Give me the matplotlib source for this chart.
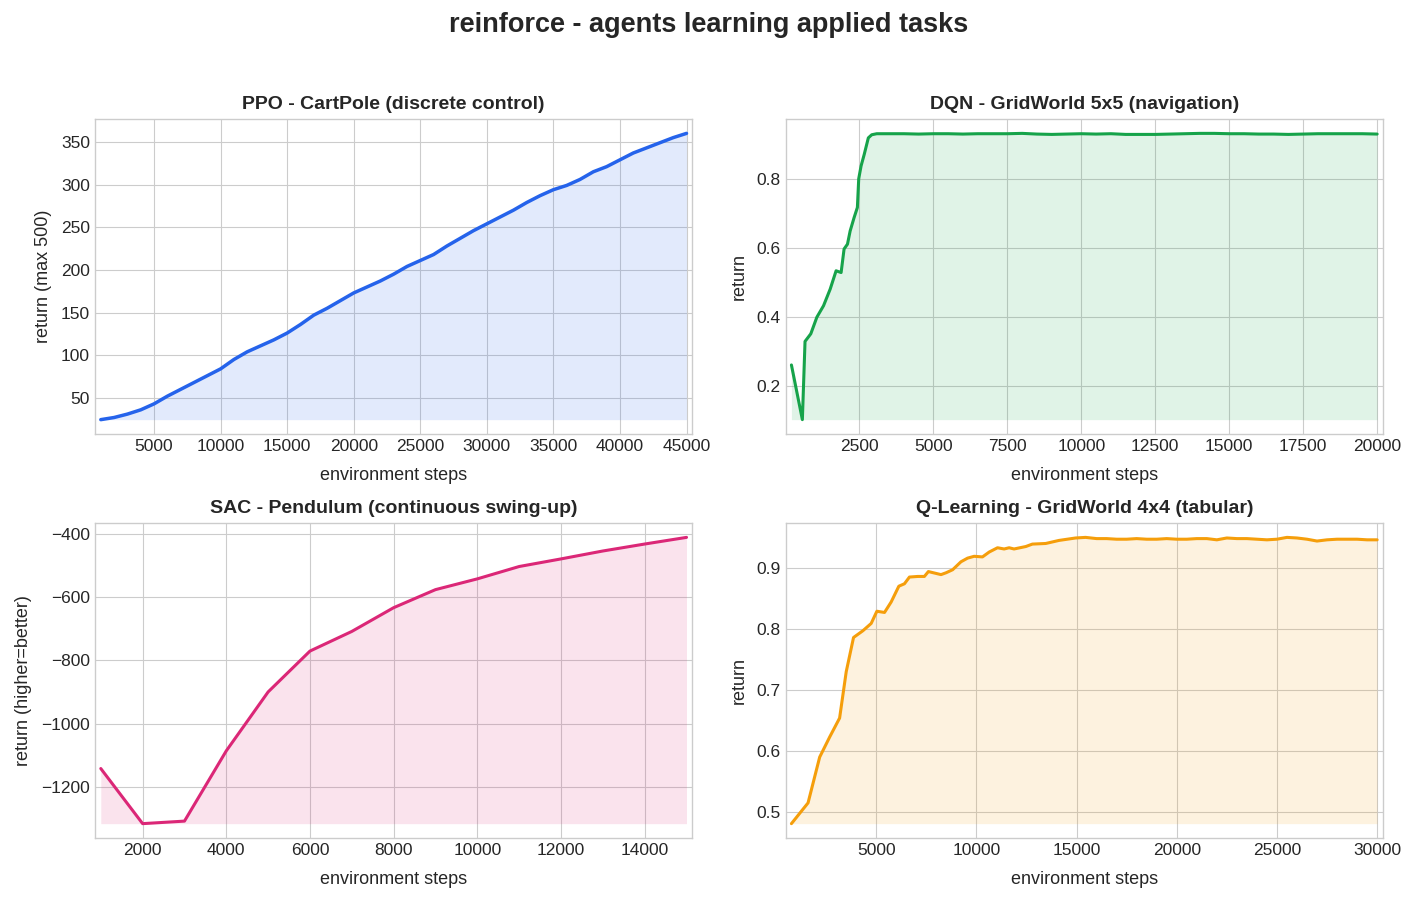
#!/usr/bin/env python3
"""
Learning curves for four RL agents (PPO, DQN, SAC, Q-learning) in a 2x2 grid.
Saves out.png.
"""
import numpy as np
import matplotlib
matplotlib.use('Agg')
import matplotlib.pyplot as plt

# --- PPO / CartPole ---
ppo_steps = list(range(1000, 46000, 1000))
ppo_return = [24.5, 27, 31, 36, 43, 52, 60, 68, 76, 84,
              95, 104, 111, 118, 126, 136, 147, 155, 164, 173,
              180, 187, 195, 204, 211, 218, 228, 237, 246, 254,
              262, 270, 279, 287, 294, 299, 306, 315, 321, 329,
              337, 343, 349, 355, 360]

# --- DQN / GridWorld 5x5 ---
dqn_steps = [200, 570, 660, 855, 1060, 1285, 1510, 1710, 1880, 1980,
             2095, 2185, 2320, 2430, 2475, 2555, 2660, 2800, 2915, 3085,
             3500, 4000, 4500, 5000, 5500, 6000, 6500, 7000, 7500, 8000,
             8500, 9000, 9500, 10000, 10500, 11000, 11500, 12000, 12500, 13000,
             13500, 14000, 14500, 15000, 15500, 16000, 16500, 17000, 17500, 18000,
             18500, 19000, 19500, 20000]
dqn_return = [0.262, 0.104, 0.330, 0.352, 0.400, 0.433, 0.481, 0.534, 0.529, 0.597,
              0.611, 0.649, 0.688, 0.717, 0.800, 0.837, 0.870, 0.918, 0.927, 0.930,
              0.930, 0.930, 0.929, 0.930, 0.930, 0.929, 0.930, 0.930, 0.930, 0.931,
              0.929, 0.928, 0.929, 0.930, 0.929, 0.930, 0.928, 0.928, 0.928, 0.929,
              0.930, 0.931, 0.931, 0.930, 0.930, 0.929, 0.929, 0.928, 0.929, 0.930,
              0.930, 0.930, 0.930, 0.929]

# --- SAC / Pendulum ---
sac_steps = list(range(1000, 16000, 1000))
sac_return = [-1142, -1316, -1308, -1086, -900, -771, -709, -634, -577, -543,
              -504, -480, -455, -433, -412]

# --- Q-learning / GridWorld 4x4 ---
ql_steps = [770, 1600, 2180, 2680, 3175, 3505, 3870, 4335, 4750, 5035,
            5415, 5745, 6130, 6410, 6660, 7075, 7405, 7605, 8235, 8485,
            8815, 9230, 9560, 9890, 10305, 10640, 11055, 11385, 11635, 11880,
            12465, 12795, 13460, 14120, 14950, 15450,
            16000, 16500, 17000, 17500, 18000, 18500, 19000, 19500, 20000, 20500,
            21000, 21500, 22000, 22500, 23000, 23500, 24000, 24500, 25000, 25500,
            26000, 26500, 27000, 27500, 28000, 28500, 29000, 29500, 30000]
ql_return = [0.481, 0.515, 0.590, 0.623, 0.654, 0.730, 0.786, 0.797, 0.809, 0.829,
             0.827, 0.844, 0.870, 0.874, 0.885, 0.886, 0.886, 0.894, 0.889, 0.892,
             0.897, 0.910, 0.916, 0.919, 0.918, 0.926, 0.933, 0.931, 0.933, 0.931,
             0.935, 0.939, 0.940, 0.945, 0.949, 0.950,
             0.948, 0.948, 0.947, 0.947, 0.948, 0.947, 0.947, 0.948, 0.947, 0.947,
             0.948, 0.948, 0.946, 0.949, 0.948, 0.948, 0.947, 0.946, 0.947, 0.950,
             0.949, 0.947, 0.944, 0.946, 0.947, 0.947, 0.947, 0.946, 0.946]

PANELS = [
    ('PPO - CartPole (discrete control)', ppo_steps, ppo_return, 'return (max 500)', '#2563eb', 2.5),
    ('DQN - GridWorld 5x5 (navigation)', dqn_steps, dqn_return, 'return', '#16a34a', 2.2),
    ('SAC - Pendulum (continuous swing-up)', sac_steps, sac_return, 'return (higher=better)', '#db2777', 2.2),
    ('Q-Learning - GridWorld 4x4 (tabular)', ql_steps, ql_return, 'return', '#f59e0b', 2.2),
]


def main():
    plt.style.use('seaborn-v0_8-whitegrid')
    plt.rcParams['font.family'] = ['Liberation Sans', 'DejaVu Sans']
    plt.rcParams['xtick.labelsize'] = 12.5
    plt.rcParams['ytick.labelsize'] = 12.5

    fig, axes = plt.subplots(2, 2, figsize=(14.17, 9.02), dpi=100)
    for ax, (title, xs, ys, ylabel, color, lw) in zip(axes.flat, PANELS):
        x = np.asarray(xs, dtype=float)
        y = np.asarray(ys, dtype=float)
        ax.plot(x, y, color=color, linewidth=lw)
        ax.fill_between(x, y, y.min(), color=color, alpha=0.13, linewidth=0)
        ax.margins(x=0.01)
        ax.set_title(title, fontsize=14, fontweight='bold', color='#262626', pad=7.5)
        ax.set_xlabel('environment steps', fontsize=13, color='#262626', labelpad=9.5)
        ax.set_ylabel(ylabel, fontsize=13, color='#262626', labelpad=6.5)

    fig.suptitle('reinforce - agents learning applied tasks', fontsize=19.5,
                 fontweight='bold', color='#262626', y=0.987)
    fig.subplots_adjust(left=0.067, right=0.976, top=0.868, bottom=0.071,
                        wspace=0.156, hspace=0.283)
    fig.savefig('out.png', dpi=100)


if __name__ == '__main__':
    main()
